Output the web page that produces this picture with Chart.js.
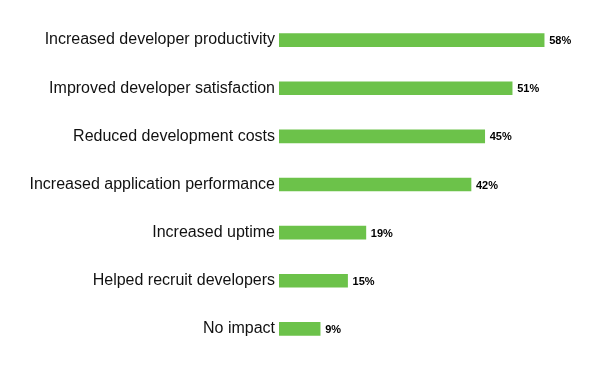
<!DOCTYPE html>
<html>
<head>
<meta charset="utf-8">
<script src="https://cdn.jsdelivr.net/npm/chart.js@4.4.0/dist/chart.umd.min.js"></script>
<style>
  html, body { margin: 0; padding: 0; background: #fff; }
  #wrap { width: 602px; height: 370px; }
</style>
</head>
<body>
<div id="wrap"><canvas id="impactChart"></canvas></div>
<script>
// Survey categories and share of respondents (%)
const categories = [
    'Increased developer productivity',
    'Improved developer satisfaction',
    'Reduced development costs',
    'Increased application performance',
    'Increased uptime',
    'Helped recruit developers',
    'No impact'
];
const percentages = [58, 51, 45, 42, 19, 15, 9];

// Draws the "58%" style labels just past the end of each bar
const valueLabels = {
    id: 'valueLabels',
    afterDatasetsDraw(chart) {
        const ctx = chart.ctx;
        const meta = chart.getDatasetMeta(0);
        ctx.save();
        ctx.font = 'bold 11px "Liberation Sans", Arial, sans-serif';
        ctx.fillStyle = '#000';
        ctx.textAlign = 'left';
        ctx.textBaseline = 'middle';
        meta.data.forEach((bar, i) => {
            ctx.fillText(percentages[i] + '%', bar.x + 5, bar.y + 1);
        });
        ctx.restore();
    }
};

new Chart(document.getElementById('impactChart'), {
    type: 'bar',
    data: {
        labels: categories,
        datasets: [{
            data: percentages,
            backgroundColor: '#6cc24a',
            barThickness: 13
        }]
    },
    options: {
        indexAxis: 'y',
        responsive: true,
        maintainAspectRatio: false,
        animation: false,
        layout: { padding: { left: 0, right: 3, top: 16, bottom: 17 } },
        plugins: {
            legend: { display: false },
            tooltip: { enabled: false }
        },
        scales: {
            x: {
                display: false,
                min: 0,
                max: 70
            },
            y: {
                grid: { display: false, drawTicks: false },
                border: { display: false },
                ticks: {
                    color: '#111',
                    padding: 4,
                    font: { family: '"Liberation Sans", Arial, sans-serif', size: 16 }
                },
                afterFit(scale) { scale.width = 279; }
            }
        }
    },
    plugins: [valueLabels]
});
</script>
</body>
</html>
